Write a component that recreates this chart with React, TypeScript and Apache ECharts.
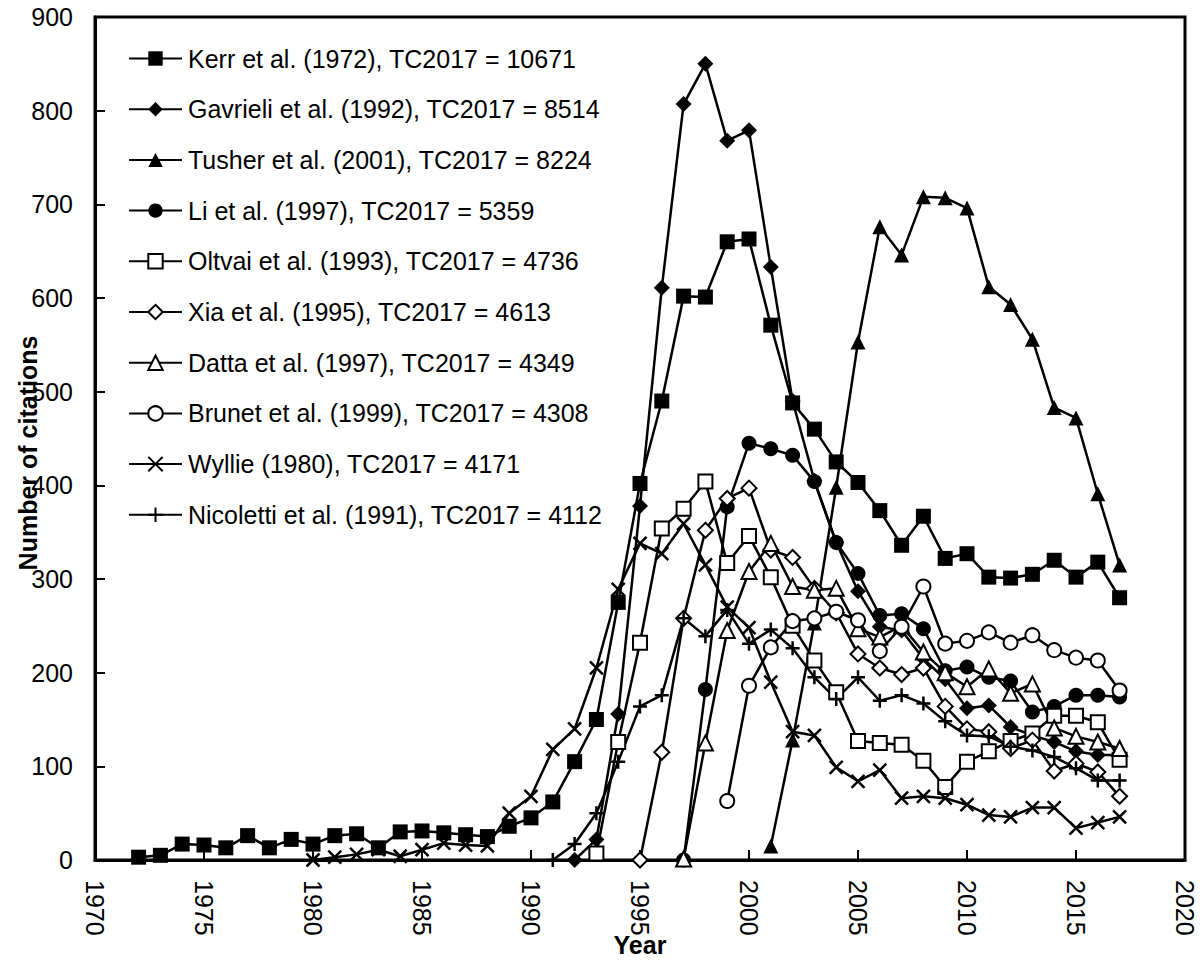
import React, { useEffect, useRef } from "react";
import * as echarts from "echarts";

// ---- data (citations per year) ----
const kerrStart = 1972;
const kerrValues = [3, 5, 17, 16, 13, 26, 13, 22, 17, 26, 28, 13, 30, 31, 29, 27, 25, 36, 45, 62, 105, 150, 275, 402, 490, 602, 601, 660, 663, 571, 488, 460, 425, 403, 373, 336, 367, 322, 327, 302, 301, 305, 320, 302, 318, 280];
const gavrieliStart = 1992;
const gavrieliValues = [0, 22, 156, 378, 611, 807, 850, 768, 779, 633, 490, 405, 339, 287, 249, 245, 215, 193, 162, 165, 142, 133, 126, 116, 112, 112];
const tusherStart = 2001;
const tusherValues = [15, 128, 253, 398, 553, 676, 646, 708, 707, 696, 612, 593, 556, 483, 472, 391, 315];
const liStart = 1997;
const liValues = [0, 182, 377, 445, 439, 432, 404, 339, 306, 261, 263, 247, 202, 206, 195, 191, 158, 164, 176, 176, 174];
const oltvaiStart = 1993;
const oltvaiValues = [7, 126, 232, 354, 375, 404, 317, 346, 302, 250, 213, 179, 127, 125, 123, 106, 78, 105, 116, 127, 135, 154, 154, 147, 107];
const xiaStart = 1995;
const xiaValues = [0, 115, 258, 352, 386, 397, 331, 323, 290, 264, 220, 205, 198, 205, 164, 140, 137, 119, 128, 95, 103, 94, 68];
const dattaStart = 1997;
const dattaValues = [1, 125, 245, 308, 338, 292, 288, 290, 247, 238, 250, 222, 200, 185, 204, 178, 188, 141, 132, 126, 119];
const brunetStart = 1999;
const brunetValues = [63, 186, 227, 255, 258, 265, 256, 223, 249, 292, 231, 234, 243, 232, 240, 224, 216, 213, 181];
const wyllieStart = 1980;
const wyllieValues = [0, 3, 6, 11, 4, 11, 18, 16, 15, 50, 68, 118, 140, 205, 289, 338, 327, 359, 315, 270, 248, 190, 137, 133, 99, 84, 96, 66, 68, 66, 59, 48, 46, 56, 56, 34, 40, 46];
const nicolettiStart = 1991;
const nicolettiValues = [0, 17, 50, 105, 164, 176, 258, 239, 267, 231, 246, 226, 195, 172, 195, 170, 176, 167, 148, 133, 132, 121, 117, 110, 98, 85, 85];

const seriesNames = [
  "Kerr et al. (1972), TC2017 = 10671",
  "Gavrieli et al. (1992), TC2017 = 8514",
  "Tusher et al. (2001), TC2017 = 8224",
  "Li et al. (1997), TC2017 = 5359",
  "Oltvai et al. (1993), TC2017 = 4736",
  "Xia et al. (1995), TC2017 = 4613",
  "Datta et al. (1997), TC2017 = 4349",
  "Brunet et al. (1999), TC2017 = 4308",
  "Wyllie (1980), TC2017 = 4171",
  "Nicoletti et al. (1991), TC2017 = 4112",
];

const xAxisTitle = "Year";
const yAxisTitle = "Number of citations";

const xMin = 1970;
const xMax = 2020;
const xInterval = 5;
const yMin = 0;
const yMax = 900;
const yInterval = 100;

const FONT = '"Liberation Sans", Arial, sans-serif';

const toPairs = (start: number, vals: number[]) => vals.map((v, i) => [start + i, v]);

const CROSS = "path://M0,0L10,10M10,0L0,10";
const PLUS = "path://M5,0L5,10M0,5L10,5";

export default function App() {
  const ref = useRef<HTMLDivElement>(null);

  useEffect(() => {
    if (!ref.current) return;
    document.body.style.margin = "0";
    document.body.style.overflow = "hidden";
    const chart = echarts.init(ref.current, null, { renderer: "svg" });

    const defs: { start: number; vals: number[]; symbol: string; size: number; open: boolean; stroke?: boolean }[] = [
      { start: kerrStart, vals: kerrValues, symbol: "rect", size: 15, open: false },
      { start: gavrieliStart, vals: gavrieliValues, symbol: "diamond", size: 16, open: false },
      { start: tusherStart, vals: tusherValues, symbol: "triangle", size: 15, open: false },
      { start: liStart, vals: liValues, symbol: "circle", size: 15, open: false },
      { start: oltvaiStart, vals: oltvaiValues, symbol: "emptyRect", size: 14, open: true },
      { start: xiaStart, vals: xiaValues, symbol: "emptyDiamond", size: 15, open: true },
      { start: dattaStart, vals: dattaValues, symbol: "emptyTriangle", size: 15, open: true },
      { start: brunetStart, vals: brunetValues, symbol: "emptyCircle", size: 14, open: true },
      { start: wyllieStart, vals: wyllieValues, symbol: CROSS, size: 13, open: false, stroke: true },
      { start: nicolettiStart, vals: nicolettiValues, symbol: PLUS, size: 14, open: false, stroke: true },
    ];

    const series = defs.map((d, i) => ({
      name: seriesNames[i],
      type: "line",
      data: toPairs(d.start, d.vals),
      symbol: d.symbol,
      symbolSize: d.size,
      showSymbol: true,
      lineStyle: { color: "#000", width: 2.5 },
      itemStyle: d.stroke
        ? { color: "#000", borderColor: "#000", borderWidth: 2.5 }
        : d.open
        ? { color: "#000", borderColor: "#000", borderWidth: 2 }
        : { color: "#000", borderWidth: 0 },
      emphasis: { disabled: true },
      z: 2,
    }));

    chart.setOption({
      animation: false,
      backgroundColor: "#fff",
      grid: {
        left: 95,
        right: 15,
        top: 17,
        bottom: 107,
        containLabel: false,
        outerBoundsMode: "none",
        show: true,
        borderColor: "#000",
        borderWidth: 3,
        backgroundColor: "transparent",
      },
      legend: {
        orient: "vertical",
        left: 128,
        top: 46,
        padding: 0,
        itemWidth: 53,
        itemHeight: 18,
        itemGap: 25.7,
        selectedMode: false,
        textStyle: { fontFamily: FONT, fontSize: 25, color: "#000", padding: [0, 0, 0, 1] },
        data: seriesNames,
      },
      xAxis: {
        type: "value",
        min: xMin,
        max: xMax,
        interval: xInterval,
        axisLine: { show: true, onZero: false, lineStyle: { color: "#000", width: 3 } },
        axisTick: { show: true, inside: true, length: 10, lineStyle: { color: "#000", width: 2 } },
        axisLabel: {
          rotate: -90,
          margin: 20,
          fontFamily: FONT,
          fontSize: 25,
          color: "#000",
          formatter: (v: number) => String(v),
        },
        splitLine: { show: false },
      },
      yAxis: {
        type: "value",
        min: yMin,
        max: yMax,
        interval: yInterval,
        axisLine: { show: true, lineStyle: { color: "#000", width: 3 } },
        axisTick: { show: true, inside: true, length: 10, lineStyle: { color: "#000", width: 2 } },
        axisLabel: { margin: 22, fontFamily: FONT, fontSize: 25, color: "#000" },
        splitLine: { show: false },
      },
      graphic: [
        {
          type: "text",
          x: 28,
          y: 453,
          rotation: Math.PI / 2,
          style: {
            text: yAxisTitle,
            fontFamily: FONT,
            fontSize: 25,
            fontWeight: "bold",
            fill: "#000",
            align: "center",
            verticalAlign: "middle",
          },
          z: 100,
        },
        {
          type: "text",
          x: 640,
          y: 945,
          style: {
            text: xAxisTitle,
            fontFamily: FONT,
            fontSize: 25,
            fontWeight: "bold",
            fill: "#000",
            align: "center",
            verticalAlign: "middle",
          },
          z: 100,
        },
      ],
      series,
    });

    return () => chart.dispose();
  }, []);

  return <div ref={ref} style={{ position: "fixed", left: 0, top: 0, width: 1200, height: 967 }} />;
}
